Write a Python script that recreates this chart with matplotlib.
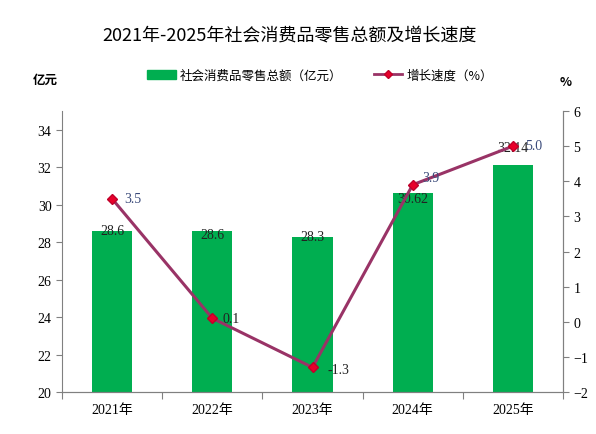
import matplotlib.pyplot as plt
from matplotlib.lines import Line2D
from matplotlib.patches import Patch

years = ["2021年", "2022年", "2023年", "2024年", "2025年"]
sales = [28.6, 28.6, 28.3, 30.62, 32.14]
sales_labels = ["28.6", "28.6", "28.3", "30.62", "32.14"]
growth = [3.5, 0.1, -1.3, 3.9, 5.0]
growth_labels = ["3.5", "0.1", "-1.3", "3.9", "5.0"]

green = "#00AE50"
line_col = "#993366"
num_font = ["Liberation Serif", "Noto Sans CJK SC"]
cjk_font = ["Noto Sans CJK SC", "DejaVu Sans"]

fig = plt.figure(figsize=(5.96, 4.35), dpi=100)
ax = fig.add_axes([62 / 596, 1 - 393 / 435, (563 - 62) / 596, (393 - 112) / 435])
ax2 = ax.twinx()

x = list(range(len(years)))
ax.bar(x, sales, width=0.4, color=green, zorder=2)
ax.set_ylim(20, 35)
ax.set_yticks(range(20, 35, 2))
ax.set_xlim(-0.5, 4.5)
ax.set_xticks([i - 0.5 for i in range(6)], minor=False)
ax.set_xticklabels([])
ax.set_xticks(x, minor=True)
ax.set_xticklabels(years, minor=True, fontfamily=num_font, fontsize=10)
ax.tick_params(axis="x", which="minor", length=0, pad=8)
ax.tick_params(axis="x", which="major", length=5, color="#808080")
ax.tick_params(axis="y", length=4, color="#808080", labelsize=10)
for lab in ax.get_yticklabels():
    lab.set_fontfamily(num_font)

# label shifts as placed in the original (in data units)
bar_shift = [0.0, -0.2, 0.0, -0.27, 0.9]
for i, v in enumerate(sales):
    ax.text(i, v + bar_shift[i], sales_labels[i], ha="center", va="center",
            fontfamily=num_font, fontsize=10, color="#222222", zorder=5)

ax2.plot(x, growth, color=line_col, lw=2.2, marker="D", markersize=5,
         markerfacecolor="#E8002A", markeredgecolor="#C0002A", zorder=4)
ax2.set_ylim(-2, 6)
ax2.set_yticks(range(-2, 7))
ax2.set_yticklabels([str(t).replace("-", "\u2212") for t in range(-2, 7)])
ax2.tick_params(axis="y", length=4, color="#808080", labelsize=10)
for lab in ax2.get_yticklabels():
    lab.set_fontfamily(num_font)

label_cols = ["#3A4A7A", "#222222", "#222222", "#3A4A7A", "#3A4A7A"]
offsets = [(0.12, 0.0), (0.1, 0.0), (0.15, -0.05), (0.1, 0.2), (0.12, 0.03)]
for i, v in enumerate(growth):
    dx, dy = offsets[i]
    ax2.text(i + dx, v + dy, growth_labels[i], ha="left", va="center",
             fontfamily=num_font, fontsize=10, color=label_cols[i], zorder=5)

for a in (ax, ax2):
    a.spines["top"].set_visible(False)
    for s in ("left", "right", "bottom"):
        a.spines[s].set_color("#808080")
ax2.spines["left"].set_visible(False)

fig.text(290 / 596, 1 - 35 / 435, "2021年-2025年社会消费品零售总额及增长速度",
         ha="center", va="center", fontsize=13, fontweight="medium", fontfamily=cjk_font)
fig.text(45 / 596, 1 - 80 / 435, "亿元", ha="center", va="center",
         fontsize=9, fontweight="bold", fontfamily=cjk_font)
fig.text(566 / 596, 1 - 83 / 435, "%", ha="center", va="center",
         fontsize=9, fontweight="bold", fontfamily=cjk_font)

handles = [Patch(color=green),
           Line2D([], [], color=line_col, lw=2, marker="D", markersize=4,
                  markerfacecolor="#E8002A", markeredgecolor="#C0002A")]
fig.legend(handles, ["社会消费品零售总额（亿元）", "增长速度（%）"],
           loc="center", bbox_to_anchor=(320 / 596, 1 - 76 / 435), ncol=2,
           frameon=False, prop={"family": cjk_font, "size": 9},
           handlelength=2.3, columnspacing=2.5, handletextpad=0.3)

fig.savefig("out.png", dpi=100)
